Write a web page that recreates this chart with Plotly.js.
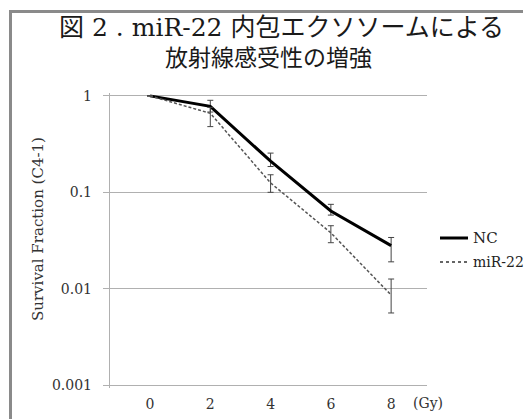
<!DOCTYPE html>
<html><head><meta charset="utf-8">
<script src="https://cdn.plot.ly/plotly-3.0.1.min.js"></script>
<style>
html,body{margin:0;padding:0;background:#fff;}
#chart{width:528px;height:419px;}
#frame{position:absolute;left:9px;top:10px;width:514px;height:430px;border-left:3px solid #8a8a8a;border-top:3px solid #8a8a8a;pointer-events:none;box-sizing:border-box;}
</style></head>
<body>
<div id="chart"></div>
<div id="frame"></div>
<script>
const doses = [0, 2, 4, 6, 8];
const ncValues = [1.0, 0.78, 0.21, 0.064, 0.028];
const ncErrPlus = [0.0, 0.12, 0.045, 0.011, 0.006];
const ncErrMinus = [0.0, 0.10, 0.025, 0.006, 0.009];
const mirValues = [1.0, 0.66, 0.125, 0.038, 0.0086];
const mirErrPlus = [0.0, 0.10, 0.027, 0.007, 0.004];
const mirErrMinus = [0.0, 0.18, 0.025, 0.008, 0.003];
const seriesNames = ['NC', 'miR-22'];
const yTickVals = [0.001, 0.01, 0.1, 1];
const yTickText = ['0.001', '0.01', '0.1', '1'];
const titleLines = ['図 2 . miR-22 内包エクソソームによる', '放射線感受性の増強'];
const yTitle = 'Survival Fraction (C4-1)';
const xUnit = '(Gy)';

const M = {l: 110, r: 101, t: 93, b: 31};
const PW = 528 - M.l - M.r, PH = 419 - M.t - M.b;
const px = (x) => (x - M.l) / PW;
const py = (y) => 1 - (y - M.t) / PH;
const serif = 'DejaVu Serif';

const traces = [
  {
    x: doses, y: ncValues, name: seriesNames[0], type: 'scatter', mode: 'lines',
    line: {color: '#000', width: 3},
    error_y: {type: 'data', symmetric: false, array: ncErrPlus, arrayminus: ncErrMinus,
      color: '#444', thickness: 1, width: 3}
  },
  {
    x: doses, y: mirValues, name: seriesNames[1], type: 'scatter', mode: 'lines',
    line: {color: '#555', width: 1.5, dash: '3px,2px'},
    error_y: {type: 'data', symmetric: false, array: mirErrPlus, arrayminus: mirErrMinus,
      color: '#444', thickness: 1, width: 3}
  }
];

const layout = {
  width: 528, height: 419,
  margin: M,
  paper_bgcolor: '#fff', plot_bgcolor: '#fff',
  showlegend: false,
  xaxis: {
    type: 'linear', range: [-1.328, 9.19],
    tickvals: doses, ticktext: doses.map(String),
    showgrid: false, zeroline: false, showline: false, ticks: '',
    ticklabelstandoff: 6,
    tickfont: {family: serif, size: 14, color: '#333'}
  },
  yaxis: {
    type: 'log', range: [-3.03, 0.03],
    tickvals: yTickVals, ticktext: yTickText,
    showgrid: true, gridcolor: '#b0b0b0', gridwidth: 1.2,
    showline: true, linecolor: '#b0b0b0', linewidth: 1.2,
    ticks: 'outside', ticklen: 6, tickcolor: '#b0b0b0',
    zeroline: false, ticklabelstandoff: 8,
    tickfont: {family: serif, size: 14, color: '#333'}
  },
  shapes: [
    {type: 'line', xref: 'paper', yref: 'paper', x0: px(440), x1: px(468), y0: py(238), y1: py(238),
     line: {color: '#000', width: 3}},
    {type: 'line', xref: 'paper', yref: 'paper', x0: px(440), x1: px(468), y0: py(262), y1: py(262),
     line: {color: '#333', width: 1.5, dash: 'dot'}}
  ],
  annotations: [
    {text: titleLines[0], xref: 'paper', yref: 'paper', x: px(281), y: py(28),
     xanchor: 'center', yanchor: 'middle', showarrow: false,
     font: {family: "DejaVu Serif, Noto Sans CJK JP", size: 25, color: '#1a1a1a'}},
    {text: titleLines[1], xref: 'paper', yref: 'paper', x: px(268), y: py(56),
     xanchor: 'center', yanchor: 'middle', showarrow: false,
     font: {family: "Noto Sans CJK JP", size: 23, color: '#1a1a1a'}},
    {text: yTitle, xref: 'paper', yref: 'paper', x: px(38), y: py(229), textangle: -90,
     xanchor: 'center', yanchor: 'middle', showarrow: false,
     font: {family: serif, size: 15, color: '#333'}},
    {text: seriesNames[0], xref: 'paper', yref: 'paper', x: px(471), y: py(238), xanchor: 'left', yanchor: 'middle',
     showarrow: false, font: {family: serif, size: 15, color: '#222'}},
    {text: seriesNames[1], xref: 'paper', yref: 'paper', x: px(471), y: py(262), xanchor: 'left', yanchor: 'middle',
     showarrow: false, font: {family: serif, size: 14, color: '#222'}},
    {text: xUnit, xref: 'paper', yref: 'paper', x: px(428), y: py(403), xanchor: 'center', yanchor: 'middle',
     showarrow: false, font: {family: serif, size: 14, color: '#333'}}
  ]
};

Plotly.newPlot('chart', traces, layout, {displayModeBar: false, staticPlot: true});
</script>
</body></html>
